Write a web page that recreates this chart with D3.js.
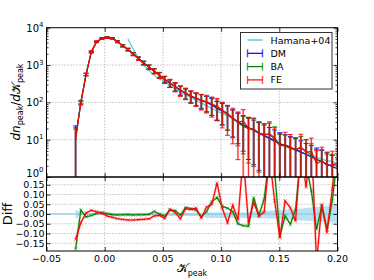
<!DOCTYPE html>
<html>
<head>
<meta charset="utf-8">
<script src="https://cdn.jsdelivr.net/npm/d3@7"></script>
<style>
  body { margin: 0; background: #fff; }
  svg text { font-family: "DejaVu Sans", sans-serif; fill: #000; }
</style>
</head>
<body>
<svg id="chart" width="374" height="280"></svg>
<script>
// Data
const kappa = [-0.025, -0.0205, -0.016, -0.0115, -0.007, -0.0025, 0.002, 0.0065, 0.011, 0.0155,
  0.02, 0.0245, 0.029, 0.0335, 0.038, 0.0425, 0.047, 0.0515, 0.056, 0.0605,
  0.065, 0.0695, 0.074, 0.0785, 0.083, 0.0875, 0.092, 0.0965, 0.101, 0.1055,
  0.11, 0.1145, 0.119, 0.1235, 0.128, 0.1325, 0.137, 0.1415, 0.146, 0.1505,
  0.155, 0.1595, 0.164, 0.1685, 0.173, 0.1775, 0.182, 0.1865, 0.191, 0.1955, 0.2];

const dmCounts = [12, 100, 560, 2240, 4170, 5130, 5500, 5250, 4270, 3310,
  2630, 2000, 1510, 1150, 890, 690, 537, 417, 324, 263,
  214, 174, 145, 126, 115, 100, 85, 69, 59, 49,
  37, 30, 24.5, 21, 17.8, 15.1, 12.9, 11, 9.3, 7.9,
  6.9, 6.2, 5.4, 4.7, 4.0, 3.5, 3.0, 2.6, 2.24, 1.9, 1.66];

// relative difference to DM
const baDiff = [-0.18, 0.02, -0.015, -0.008, 0.003, 0.008, 0.002, -0.003, -0.005, -0.004,
  -0.003, -0.005, -0.004, -0.004, -0.002, 0.014, 0.0, -0.012, 0.02, 0.018,
  -0.005, 0.033, 0.028, 0.02, -0.014, 0.012, 0.063, 0.085, 0.04, 0.03,
  0.012, -0.05, -0.06, -0.062, 0.084, -0.007, 0.076, 0.3, 0.22, -0.113,
  -0.01, -0.053, 0.024, 0.3, 0.25, 0.12, -0.079, 0.041, -0.079, 0.067, 0.3];

const feDiff = [-0.13, -0.045, 0.005, 0.019, 0.012, 0.004, -0.01, -0.017, -0.024, -0.028,
  -0.031, -0.031, -0.029, -0.027, -0.025, -0.01, -0.007, -0.023, 0.024, 0.008,
  -0.024, 0.027, 0.024, 0.03, -0.02, 0.035, 0.05, 0.16, 0.03, -0.045,
  0.045, -0.03, 0.3, -0.047, 0.06, -0.01, 0.01, 0.3, 0.067, -0.122,
  0.067, 0.032, -0.036, 0.35, 0.136, 0.4, -0.25, 0.05, -0.096, 0.127, 0.4];

// relative errors
const dmErr = [0.95, 0.10, 0.07, 0.05, 0.04, 0.04, 0.04, 0.04, 0.05, 0.06,
  0.07, 0.08, 0.09, 0.10, 0.12, 0.14, 0.16, 0.19, 0.22, 0.24,
  0.27, 0.30, 0.33, 0.36, 0.40, 0.44, 0.48, 0.53, 0.58, 0.63,
  0.68, 0.74, 0.80, 0.86, 0.88, 0.90, 0.92, 0.93, 0.95, 0.95,
  0.96, 0.97, 0.97, 0.98, 0.98, 0.98, 0.99, 0.99, 0.99, 0.99, 0.99];
const baErr = [0.95, 0.11, 0.07, 0.055, 0.045, 0.045, 0.045, 0.045, 0.055, 0.065,
  0.075, 0.085, 0.095, 0.11, 0.13, 0.15, 0.18, 0.2, 0.23, 0.26,
  0.29, 0.32, 0.35, 0.38, 0.42, 0.46, 0.5, 0.55, 0.6, 0.65,
  0.7, 0.76, 0.82, 0.88, 0.9, 0.91, 0.93, 0.94, 0.95, 0.96,
  0.96, 0.97, 0.97, 0.98, 0.98, 0.98, 0.99, 0.99, 0.99, 0.99, 0.99];
const feErr = [1.0, 0.12, 0.08, 0.06, 0.05, 0.05, 0.05, 0.05, 0.06, 0.07,
  0.08, 0.09, 0.10, 0.12, 0.14, 0.16, 0.19, 0.22, 0.25, 0.28,
  0.31, 0.34, 0.37, 0.40, 0.45, 0.50, 0.55, 0.60, 0.66, 0.72,
  0.80, 0.90, 1.0, 1.0, 1.02, 1.05, 1.05, 1.1, 1.1, 1.1,
  1.15, 1.15, 1.2, 1.2, 1.2, 1.25, 1.25, 1.3, 1.3, 1.3, 1.3];

// shaded band in the Diff panel
const bandHigh = [0.025, 0.003, 0.002, 0.002, 0.002, 0.002, 0.002, 0.002, 0.002, 0.002,
  0.002, 0.002, 0.002, 0.002, 0.002, 0.003, 0.003, 0.003, 0.003, 0.003,
  0.003, 0.003, 0.003, 0.003, 0.003, 0.008, 0.008, 0.008, 0.008, 0.008,
  0.008, 0.008, 0.008, 0.008, 0.014, 0.015, 0.016, 0.017, 0.019, 0.02,
  0.022, 0.024, 0.026, 0.028, 0.031, 0.033, 0.036, 0.038, 0.041, 0.043, 0.046];
const bandLow = [-0.025, -0.003, -0.002, -0.002, -0.002, -0.002, -0.002, -0.002, -0.002, -0.002,
  -0.002, -0.002, -0.002, -0.002, -0.002, -0.01, -0.01, -0.01, -0.01, -0.01,
  -0.01, -0.01, -0.01, -0.01, -0.01, -0.02, -0.02, -0.02, -0.02, -0.02,
  -0.02, -0.02, -0.02, -0.02, -0.02, -0.021, -0.022, -0.023, -0.025, -0.026,
  -0.028, -0.03, -0.031, -0.033, -0.035, -0.036, -0.038, -0.04, -0.042, -0.044, -0.046];

const hamanaKappa = [0.02, 0.025, 0.03, 0.035, 0.04, 0.045, 0.05, 0.055, 0.06, 0.065,
  0.07, 0.075, 0.08, 0.085, 0.09, 0.095, 0.1, 0.105, 0.11, 0.115,
  0.12, 0.125, 0.13, 0.135, 0.14, 0.145, 0.15, 0.155, 0.16, 0.165,
  0.17, 0.175, 0.18, 0.185, 0.19, 0.195, 0.2];
const hamanaCounts = [5012, 2512, 1380, 891, 631, 468, 380, 295, 234, 191,
  155, 129, 107, 89, 74, 62, 52.5, 44.7, 37.2, 30.2,
  24.5, 20, 16.2, 13.2, 11, 9.3, 7.9, 6.8, 5.9, 5.0,
  4.4, 3.9, 3.5, 3.1, 2.8, 2.6, 2.3];

const xTicks = [-0.05, 0, 0.05, 0.1, 0.15, 0.2];
const topTicks = [1, 10, 100, 1000, 10000];
const diffTicks = [-0.15, -0.1, -0.05, 0, 0.05, 0.1, 0.15];

const svg = d3.select("#chart");

// Layout
const pLeft = 46.5, pRight = 337.5, pTop = 27.7, pMid = 177, pBottom = 251;

const x = d3.scaleLinear().domain([-0.05, 0.2]).range([pLeft, pRight]);
const yTop = d3.scaleLog().domain([1, 1e4]).range([pMid, pTop]);
const yBot = d3.scaleLinear().domain([-0.19, 0.19]).range([pBottom, pMid]);

const defs = svg.append("defs");
defs.append("clipPath").attr("id", "clipTop").append("rect")
  .attr("x", pLeft).attr("y", pTop).attr("width", pRight - pLeft).attr("height", pMid - pTop);
defs.append("clipPath").attr("id", "clipBot").append("rect")
  .attr("x", pLeft).attr("y", pMid).attr("width", pRight - pLeft).attr("height", pBottom - pMid);

// Grid
const grid = svg.append("g").attr("stroke", "#000").attr("stroke-width", 0.5)
  .attr("stroke-dasharray", "1,2").attr("opacity", 0.7);
xTicks.slice(1, -1).forEach((t) => {
  grid.append("line").attr("x1", x(t)).attr("x2", x(t)).attr("y1", pTop).attr("y2", pBottom);
});
topTicks.slice(1, -1).forEach((t) => {
  grid.append("line").attr("x1", pLeft).attr("x2", pRight).attr("y1", yTop(t)).attr("y2", yTop(t));
});
diffTicks.forEach((t) => {
  grid.append("line").attr("x1", pLeft).attr("x2", pRight).attr("y1", yBot(t)).attr("y2", yBot(t));
});

// Top panel series
const series = [
  { name: "DM", color: "#0000ff", diff: null, err: dmErr },
  { name: "BA", color: "#008000", diff: baDiff, err: baErr },
  { name: "FE", color: "#ff0000", diff: feDiff, err: feErr },
];
series.forEach((s) => {
  s.values = kappa.map((k, i) => ({
    k: k,
    v: s.diff ? dmCounts[i] * (1 + s.diff[i]) : dmCounts[i],
    e: s.err[i],
  }));
});

const gTop = svg.append("g").attr("clip-path", "url(#clipTop)");

const hamanaLine = d3.line().curve(d3.curveMonotoneX)
  .x((d, i) => x(hamanaKappa[i])).y((d) => yTop(d));
gTop.append("path").datum(hamanaCounts).attr("d", hamanaLine)
  .attr("fill", "none").attr("stroke", "#2ecfcf").attr("stroke-width", 1.3).attr("opacity", 0.85);

const countLine = d3.line().x((d) => x(d.k)).y((d) => yTop(Math.max(d.v, 0.01)));
const lowY = (d) => (d.v * (1 - d.e) > 0 ? yTop(d.v * (1 - d.e)) : pMid + 5);

series.forEach((s) => {
  const eb = gTop.append("g").attr("stroke", s.color);
  // pale halo + solid core, like the alpha'd errorbars of the original
  eb.selectAll("line.halo").data(s.values).enter().append("line")
    .attr("x1", (d) => x(d.k)).attr("x2", (d) => x(d.k))
    .attr("y1", (d) => yTop(d.v * (1 + d.e))).attr("y2", lowY)
    .attr("stroke-width", 2.2).attr("opacity", 0.3);
  eb.selectAll("line.bar").data(s.values).enter().append("line")
    .attr("x1", (d) => x(d.k)).attr("x2", (d) => x(d.k))
    .attr("y1", (d) => yTop(d.v * (1 + d.e))).attr("y2", lowY)
    .attr("stroke-width", 0.9).attr("opacity", 0.85);
  eb.selectAll("line.capHi").data(s.values).enter().append("line")
    .attr("x1", (d) => x(d.k) - 2.5).attr("x2", (d) => x(d.k) + 2.5)
    .attr("y1", (d) => yTop(d.v * (1 + d.e))).attr("y2", (d) => yTop(d.v * (1 + d.e)))
    .attr("stroke-width", 1).attr("opacity", 0.85);
  eb.selectAll("line.capLo").data(s.values.filter((d) => d.v * (1 - d.e) > 0)).enter().append("line")
    .attr("x1", (d) => x(d.k) - 2.5).attr("x2", (d) => x(d.k) + 2.5)
    .attr("y1", lowY).attr("y2", lowY)
    .attr("stroke-width", 1).attr("opacity", 0.85);
  gTop.append("path").datum(s.values).attr("d", countLine)
    .attr("fill", "none").attr("stroke", s.color).attr("stroke-width", 1.2);
});

// Bottom panel
const gBot = svg.append("g").attr("clip-path", "url(#clipBot)");
gBot.append("line").attr("x1", pLeft).attr("x2", pRight).attr("y1", yBot(0)).attr("y2", yBot(0))
  .attr("stroke", "#5ab0dc").attr("stroke-width", 0.8);
const band = d3.area().x((d, i) => x(kappa[i])).y0((d, i) => yBot(bandLow[i])).y1((d) => yBot(d));
gBot.append("path").datum(bandHigh).attr("d", band)
  .attr("fill", "#87ceeb").attr("opacity", 0.6);

const diffLine = d3.line().x((d, i) => x(kappa[i])).y((d) => yBot(d));
const marker = d3.symbol(d3.symbolX, 10);
[{ d: baDiff, c: "#008000" }, { d: feDiff, c: "#ff0000" }].forEach((s) => {
  gBot.append("path").datum(s.d).attr("d", diffLine)
    .attr("fill", "none").attr("stroke", s.c).attr("stroke-width", 2.2).attr("opacity", 0.3);
  gBot.append("path").datum(s.d).attr("d", diffLine)
    .attr("fill", "none").attr("stroke", s.c).attr("stroke-width", 1.1);
  gBot.selectAll(null).data(s.d).enter().append("path")
    .attr("d", marker)
    .attr("transform", (d, i) => `translate(${x(kappa[i])},${yBot(d)})`)
    .attr("stroke", s.c).attr("stroke-width", 0.8).attr("fill", "none").attr("opacity", 0.6);
});

// Axes (ticks point inward)
const tickStyle = (g) => {
  g.select(".domain").remove();
  g.selectAll("line").attr("stroke", "#000").attr("stroke-width", 0.8);
};
const minorTop = [];
topTicks.slice(0, -1).forEach((t) => { for (let m = 2; m <= 9; m++) minorTop.push(t * m); });

[pMid, pBottom].forEach((yy) => {
  svg.append("g").attr("transform", `translate(0,${yy})`)
    .call(d3.axisBottom(x).tickValues(xTicks).tickSize(-4).tickFormat("")).call(tickStyle);
});
[pTop, pMid].forEach((yy) => {
  svg.append("g").attr("transform", `translate(0,${yy})`)
    .call(d3.axisTop(x).tickValues(xTicks).tickSize(-4).tickFormat("")).call(tickStyle);
});
svg.append("g").attr("transform", `translate(${pLeft},0)`)
  .call(d3.axisLeft(yTop).tickValues(topTicks).tickSize(-4).tickFormat("")).call(tickStyle);
svg.append("g").attr("transform", `translate(${pLeft},0)`)
  .call(d3.axisLeft(yTop).tickValues(minorTop).tickSize(-2).tickFormat("")).call(tickStyle);
svg.append("g").attr("transform", `translate(${pRight},0)`)
  .call(d3.axisRight(yTop).tickValues(topTicks).tickSize(-4).tickFormat("")).call(tickStyle);
svg.append("g").attr("transform", `translate(${pRight},0)`)
  .call(d3.axisRight(yTop).tickValues(minorTop).tickSize(-2).tickFormat("")).call(tickStyle);
svg.append("g").attr("transform", `translate(${pLeft},0)`)
  .call(d3.axisLeft(yBot).tickValues(diffTicks).tickSize(-4).tickFormat("")).call(tickStyle);
svg.append("g").attr("transform", `translate(${pRight},0)`)
  .call(d3.axisRight(yBot).tickValues(diffTicks).tickSize(-4).tickFormat("")).call(tickStyle);

// Frames
svg.append("rect").attr("x", pLeft).attr("y", pTop).attr("width", pRight - pLeft).attr("height", pMid - pTop)
  .attr("fill", "none").attr("stroke", "#000").attr("stroke-width", 1);
svg.append("rect").attr("x", pLeft).attr("y", pMid).attr("width", pRight - pLeft).attr("height", pBottom - pMid)
  .attr("fill", "none").attr("stroke", "#000").attr("stroke-width", 1);

// Tick labels
const fmt = d3.format(".2f");
xTicks.forEach((t) => {
  svg.append("text").attr("x", x(t)).attr("y", 262).attr("text-anchor", "middle")
    .attr("font-size", 9.5).text(fmt(t));
});
diffTicks.forEach((t) => {
  svg.append("text").attr("x", 44.5).attr("y", yBot(t) + 3.4).attr("text-anchor", "end")
    .attr("font-size", 9.5).text(fmt(t));
});
topTicks.forEach((t) => {
  // the lowest label sits on the panel boundary, keep it clear of the Diff labels
  const base = t === 1 ? yTop(t) - 0.5 : yTop(t) + 4;
  const lbl = svg.append("text").attr("x", 43.5).attr("y", base).attr("text-anchor", "end")
    .attr("font-size", 10);
  lbl.append("tspan").text("10");
  lbl.append("tspan").attr("dy", -4.5).attr("font-size", 7).text(Math.round(Math.log10(t)));
});

// Axis titles
const yTitle = svg.append("text").attr("transform", "translate(20,102) rotate(-90)")
  .attr("text-anchor", "middle").attr("font-size", 12);
yTitle.append("tspan").attr("font-style", "italic").text("dn");
yTitle.append("tspan").attr("font-size", 8).attr("dy", 3).text("peak");
yTitle.append("tspan").attr("dy", -3).text("/");
yTitle.append("tspan").attr("font-style", "italic").text("d");
yTitle.append("tspan").text("𝒦");
yTitle.append("tspan").attr("font-size", 8).attr("dy", 3).text("peak");

svg.append("text").attr("transform", "translate(12,214) rotate(-90)")
  .attr("text-anchor", "middle").attr("font-size", 13).text("Diff");

const xTitle = svg.append("text").attr("x", 192).attr("y", 272).attr("text-anchor", "middle")
  .attr("font-size", 12);
xTitle.append("tspan").text("𝒦");
xTitle.append("tspan").attr("font-size", 8).attr("dy", 4).text("peak");

// Legend
const lg = svg.append("g").attr("transform", "translate(240.5,32.5)");
lg.append("rect").attr("width", 91.5).attr("height", 56.5)
  .attr("fill", "#fff").attr("stroke", "#333").attr("stroke-width", 1);
const legendItems = [{ name: "Hamana+04", color: "#2ecfcf", bar: false }]
  .concat(series.map((s) => ({ name: s.name, color: s.color, bar: true })));
legendItems.forEach((it, i) => {
  const yy = 7.5 + i * 13.3;
  const row = lg.append("g").attr("transform", `translate(0,${yy})`);
  row.append("line").attr("x1", 7).attr("x2", 22).attr("stroke", it.color)
    .attr("stroke-width", it.bar ? 1.2 : 1.3);
  if (it.bar) {
    [7, 22].forEach((cx) => {
      row.append("line").attr("x1", cx).attr("x2", cx).attr("y1", -4).attr("y2", 4)
        .attr("stroke", it.color).attr("stroke-width", 1.4).attr("opacity", 0.7);
    });
  }
  row.append("text").attr("x", 30).attr("y", 3.5).attr("font-size", 9.5).text(it.name);
});
</script>
</body>
</html>
